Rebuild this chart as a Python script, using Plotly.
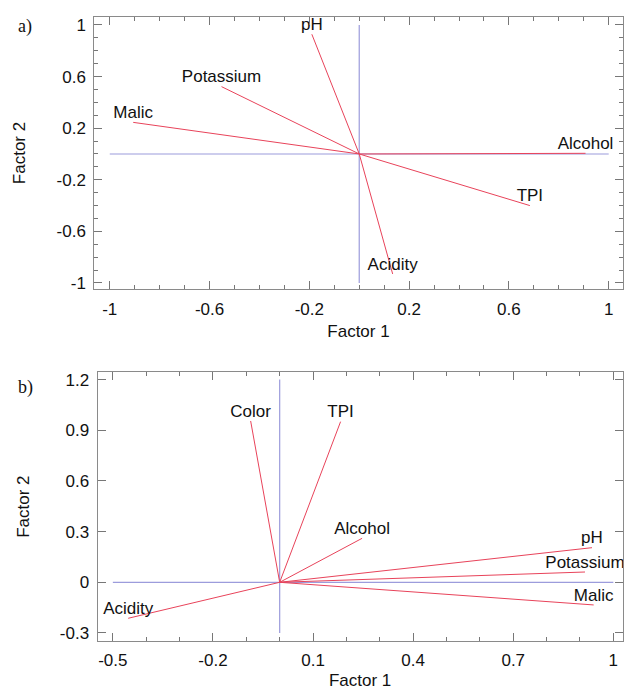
import plotly.graph_objects as go

# ---- data: panel a) ----
a_vars = ["pH", "Potassium", "Malic", "Alcohol", "TPI", "Acidity"]
a_f1 = [-0.19, -0.552, -0.906, 0.907, 0.684, 0.134]
a_f2 = [0.928, 0.522, 0.245, 0.005, -0.40, -0.93]

# ---- data: panel b) ----
b_vars = ["Color", "TPI", "Alcohol", "pH", "Potassium", "Malic", "Acidity"]
b_f1 = [-0.087, 0.1825, 0.247, 0.936, 0.915, 0.941, -0.454]
b_f2 = [0.955, 0.951, 0.2605, 0.205, 0.061, -0.134, -0.213]

# ---- tick labels ----
a_xticks = [-1, -0.6, -0.2, 0.2, 0.6, 1]
a_xtext = ["-1", "-0.6", "-0.2", "0.2", "0.6", "1"]
a_yticks = [-1, -0.6, -0.2, 0.2, 0.6, 1]
a_ytext = ["-1", "-0.6", "-0.2", "0.2", "0.6", "1"]
b_xticks = [-0.5, -0.2, 0.1, 0.4, 0.7, 1]
b_xtext = ["-0.5", "-0.2", "0.1", "0.4", "0.7", "1"]
b_yticks = [-0.3, 0, 0.3, 0.6, 0.9, 1.2]
b_ytext = ["-0.3", "0", "0.3", "0.6", "0.9", "1.2"]

RED = "#e8435a"
BLUE = "#9c9cdc"
FRAME = "#8a8a8a"
FONT = "Liberation Sans, Arial, sans-serif"
FS = 17

fig = go.Figure()

def add_panel(xa, ya, xr, yr, names, f1, f2):
    # reference axes (blue cross)
    fig.add_trace(go.Scatter(x=[xr[0], xr[1], None, 0, 0], y=[0, 0, None, yr[0], yr[1]],
                             mode="lines", line=dict(color=BLUE, width=1.2),
                             xaxis=xa, yaxis=ya, hoverinfo="skip", showlegend=False))
    xs, ys = [], []
    for x, y in zip(f1, f2):
        xs += [0, x, None]
        ys += [0, y, None]
    fig.add_trace(go.Scatter(x=xs, y=ys, mode="lines", line=dict(color=RED, width=1),
                             xaxis=xa, yaxis=ya, hoverinfo="skip", showlegend=False))
    fig.add_trace(go.Scatter(x=f1, y=f2, mode="text", text=names, textposition="top center",
                             textfont=dict(family=FONT, size=FS, color="#111111"),
                             cliponaxis=False,
                             xaxis=xa, yaxis=ya, hoverinfo="skip", showlegend=False))

add_panel("x", "y", [-1, 1], [-1, 1], a_vars, a_f1, a_f2)
add_panel("x2", "y2", [-0.5, 1], [-0.3, 1.2], b_vars, b_f1, b_f2)

def axis_style(tickvals, ticktext, rng, domain, anchor, title, minor=True, title_standoff=None):
    d = dict(range=rng, domain=domain, anchor=anchor,
             tickmode="array", tickvals=tickvals, ticktext=ticktext,
             showgrid=False, zeroline=False,
             showline=True, linecolor=FRAME, linewidth=1, mirror="ticks",
             ticks="inside", ticklen=8, tickcolor="#777777", tickwidth=1,
             tickfont=dict(family=FONT, size=FS, color="#111111"),
             title=dict(text=title, font=dict(family=FONT, size=FS, color="#111111")),
             ticklabelstandoff=4, automargin=False)
    if title_standoff is not None:
        d["title"]["standoff"] = title_standoff
    if minor:
        d["minor"] = dict(tickmode="linear", tick0=0, dtick=0.1, ticks="inside",
                          ticklen=4, tickcolor="#777777", tickwidth=1)
    return d

fig.update_layout(
    width=624, height=690,
    margin=dict(l=0, r=0, t=0, b=0),
    paper_bgcolor="white", plot_bgcolor="white",
    showlegend=False,
    xaxis=axis_style(a_xticks, a_xtext, [-1.062, 1.056], [0.1511, 0.9979], "y", "Factor 1",
                     title_standoff=7),
    yaxis=axis_style(a_yticks, a_ytext, [-1.049, 1.064], [0.5807, 0.9758], "x", "Factor 2",
                     title_standoff=26),
    xaxis2=axis_style(b_xticks, b_xtext, [-0.546, 1.028], [0.15625, 0.9979], "y2", "Factor 1",
                      title_standoff=13),
    yaxis2=axis_style(b_yticks, b_ytext, [-0.3475, 1.243], [0.0710, 0.4604], "x2", "Factor 2",
                      minor=False, title_standoff=25),
)

fig.add_annotation(text="a)", x=25 / 624, y=1 - 27 / 690, xref="paper", yref="paper",
                   showarrow=False, xanchor="center", yanchor="middle",
                   font=dict(family="Liberation Serif, Times New Roman, serif", size=18, color="#111111"))
fig.add_annotation(text="b)", x=25 / 624, y=1 - 387 / 690, xref="paper", yref="paper",
                   showarrow=False, xanchor="center", yanchor="middle",
                   font=dict(family="Liberation Serif, Times New Roman, serif", size=18, color="#111111"))

fig.write_html("out.html")
